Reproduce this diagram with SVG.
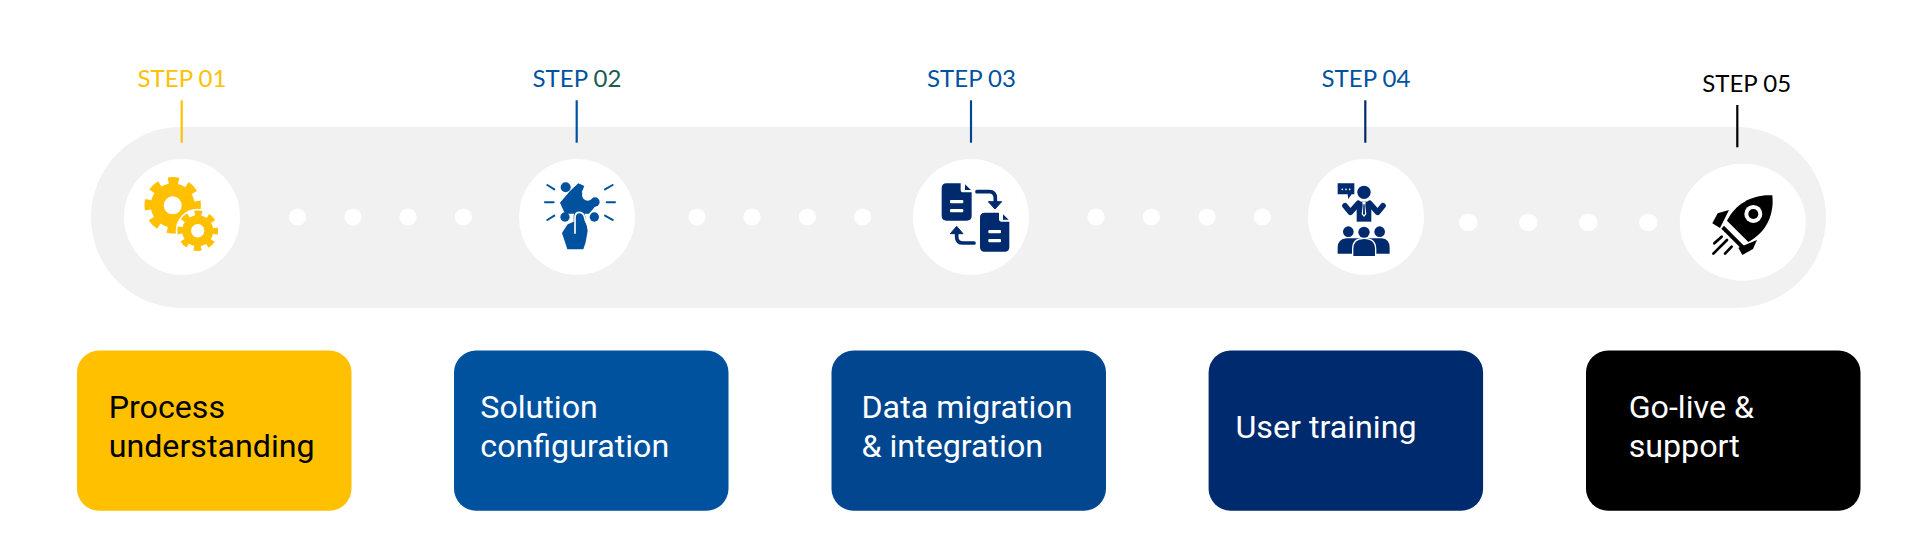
<svg xmlns="http://www.w3.org/2000/svg" width="1920" height="541" viewBox="0 0 1920 541">
<style>
.step{font-family:"Lato","Liberation Sans",sans-serif;font-size:24px;text-anchor:middle}
.lab{font-family:"Roboto","Liberation Sans",sans-serif;font-size:32.2px}
.w{fill:#fff}.k{fill:#000}
.tick{stroke-width:2.2;fill:none}
.dot{fill:#fff}
</style>
<rect width="1920" height="541" fill="#fff"/>
<rect id="track" x="91" y="126.7" width="1735" height="181.3" rx="90.6" fill="#f1f1f1"/>
<g id="connectors">
<g class="dots">
<circle class="dot" cx="297.5" cy="217" r="8.6"/><circle class="dot" cx="353" cy="217" r="8.6"/><circle class="dot" cx="408" cy="217" r="8.6"/><circle class="dot" cx="463.3" cy="217" r="8.6"/>
<circle class="dot" cx="697" cy="217" r="8.6"/><circle class="dot" cx="752" cy="217" r="8.6"/><circle class="dot" cx="807.3" cy="217" r="8.6"/><circle class="dot" cx="862.7" cy="217" r="8.6"/>
<circle class="dot" cx="1096" cy="217" r="8.6"/><circle class="dot" cx="1151.3" cy="217" r="8.6"/><circle class="dot" cx="1207" cy="217" r="8.6"/><circle class="dot" cx="1262.4" cy="217" r="8.6"/>
<ellipse class="dot" cx="1468.3" cy="222.3" rx="9.2" ry="8.6"/><ellipse class="dot" cx="1528.3" cy="222.3" rx="9.2" ry="8.6"/><ellipse class="dot" cx="1588.3" cy="222.3" rx="9.2" ry="8.6"/><ellipse class="dot" cx="1648.3" cy="222.3" rx="9.2" ry="8.6"/>
</g>
<line class="tick" x1="181.7" y1="100.3" x2="181.7" y2="142.7" stroke="#ffc000"/>
<line class="tick" x1="576.7" y1="100.3" x2="576.7" y2="142.7" stroke="#00529f"/>
<line class="tick" x1="971" y1="100.3" x2="971" y2="142.7" stroke="#00478f"/>
<line class="tick" x1="1365.3" y1="100.3" x2="1365.3" y2="142.7" stroke="#002a6e"/>
<line class="tick" x1="1737.3" y1="105" x2="1737.3" y2="147.3" stroke="#000"/>
</g>

<g id="step1">
<text class="step" x="182" y="87" fill="#ffc000">STEP 01</text>
<circle class="w" cx="182" cy="217" r="58"/>
<g fill="#ffc000">
<circle cx="172.7" cy="205.3" r="22"/>
<circle cx="172.7" cy="205.3" r="24.5" fill="none" stroke="#ffc000" stroke-width="7.4" stroke-dasharray="10.4 8.84" stroke-dashoffset="5.2"/>
<circle cx="172.7" cy="205.3" r="9" fill="#fff"/>
<circle cx="197.7" cy="230.7" r="22" fill="#fff"/>
<circle cx="197.7" cy="230.7" r="15.5"/>
<circle cx="197.7" cy="230.7" r="17.3" fill="none" stroke="#ffc000" stroke-width="6" stroke-dasharray="7.2 6.39" stroke-dashoffset="3.6"/>
<circle cx="197.7" cy="230.7" r="6.7" fill="#fff"/>
</g>
<rect x="77" y="350.5" width="274.5" height="160.2" rx="22" fill="#ffc000"/>
<text class="lab k" x="108.7" y="418">Process</text>
<text class="lab k" x="108.7" y="456.7">understanding</text>
</g>

<g id="step2">
<text class="step" x="577" y="87" fill="#00529f">STEP <tspan fill="#1a5c50">02</tspan></text>
<circle class="w" cx="577" cy="217" r="58"/>
<g transform="translate(515 155) scale(.3333)" fill="#00529f">
<path d="M135,143 L165,108 L190,85 L208,93 L200,112 L250,143 L222,176 L150,176 Z"/>
<circle cx="152" cy="97" r="15"/><circle cx="240" cy="141" r="14"/><circle cx="150" cy="186" r="14"/><circle cx="238" cy="186" r="14"/>
<circle cx="218" cy="120" r="17" fill="#fff"/>
<path d="M141,234 L158,208 L176,200 L176,182 Q178,166 193,166 Q208,166 211,184 Q214,205 218,228 L212,262 L205,283 L157,283 Z"/>
<path d="M180,236 V186 Q181,172 193,172 Q206,172 209,188 Q212,208 232,226" fill="none" stroke="#fff" stroke-width="5"/>
<g stroke="#00529f" stroke-width="6" stroke-linecap="round" fill="none">
<path d="M97,90 L118,103M90,142 H116M97,195 L118,182M270,103 L293,90M275,142 H300M270,182 L293,195"/>
</g>
</g>
<rect x="454" y="350.5" width="274.5" height="160.2" rx="22" fill="#00529f"/>
<text class="lab w" x="480.3" y="418">Solution</text>
<text class="lab w" x="480.3" y="456.7">configuration</text>
</g>

<g id="step3">
<text class="step" x="971.5" y="87" fill="#00529f">STEP 03</text>
<circle class="w" cx="971" cy="217" r="58"/>
<g transform="translate(910 155) scale(.3333)" fill="#002a6e">
<path d="M110,85 H152 V105 Q152,112 160,112 H185 V183 Q185,197 170,197 H110 Q95,197 95,183 V100 Q95,85 110,85 Z"/>
<path d="M165,88 L183,105 H165 Z"/>
<rect x="120" y="135" width="40" height="10" rx="3" fill="#fff"/><rect x="120" y="162" width="40" height="10" rx="3" fill="#fff"/>
<path d="M225,173 H267 V193 Q267,200 275,200 H298 V276 Q298,290 284,290 H224 Q210,290 210,276 V188 Q210,173 225,173 Z"/>
<path d="M279,178 L296,194 H279 Z"/>
<rect x="235" y="225" width="38" height="10" rx="3" fill="#fff"/><rect x="235" y="252" width="38" height="10" rx="3" fill="#fff"/>
<path d="M201,110 H238 Q256,110 256,130 V145" fill="none" stroke="#002a6e" stroke-width="11" stroke-linecap="round"/>
<path d="M235,140 H275 L255,162 Z" stroke="#002a6e" stroke-width="3" stroke-linejoin="round"/>
<path d="M192,264 H160 Q140,264 140,245 V232" fill="none" stroke="#002a6e" stroke-width="11" stroke-linecap="round"/>
<path d="M121,236 H159 L140,214 Z" stroke="#002a6e" stroke-width="3" stroke-linejoin="round"/>
</g>
<rect x="831.5" y="350.5" width="274.5" height="160.2" rx="22" fill="#01468e"/>
<text class="lab w" x="861.5" y="418">Data migration</text>
<text class="lab w" x="861.5" y="456.7">&amp; integration</text>
</g>

<g id="step4">
<text class="step" x="1366" y="87" fill="#00529f">STEP 04</text>
<circle class="w" cx="1366" cy="217" r="58"/>
<g transform="translate(1305 155) scale(.3333)" fill="#002a6e">
<path d="M98,85 H148 V118 H140 L130,132 L128,118 H98 Z"/>
<circle cx="112" cy="103" r="2.6" fill="#fff"/><circle cx="123" cy="103" r="2.6" fill="#fff"/><circle cx="134" cy="103" r="2.6" fill="#fff"/>
<circle cx="177" cy="112" r="20"/>
<path d="M155,140 H199 V200 H155 Z"/>
<path d="M120,152 L136,172 L160,145 M234,152 L218,172 L194,145" fill="none" stroke="#002a6e" stroke-width="17" stroke-linecap="round" stroke-linejoin="round"/>
<path d="M172,140 H182 L181,152 L184,178 L177,186 L170,178 L173,152 Z" fill="#fff"/>
<path d="M175,148 H179 L180,176 L177,181 L174,176 Z"/>
<circle cx="130" cy="230" r="16"/><circle cx="224" cy="230" r="16"/>
<path d="M98,296 V278 Q98,252 125,250 H230 Q254,252 254,278 V296 Z"/>
<circle cx="177" cy="232" r="17"/>
<path d="M143,305 V282 Q143,250 177,250 Q212,250 212,282 V305 Z" stroke="#fff" stroke-width="4"/>
</g>
<rect x="1208.6" y="350.5" width="274.5" height="160.2" rx="22" fill="#002a6e"/>
<text class="lab w" x="1235.5" y="438">User training</text>
</g>

<g id="step5">
<text class="step k" x="1746.7" y="91.7">STEP 05</text>
<ellipse class="w" cx="1742.8" cy="222.3" rx="63" ry="58.5"/>
<g transform="translate(1675 60) scale(.3333)">
<path d="M292,406 C235,402 182,430 156,482 L220,546 C276,516 298,462 292,406 Z"/>
<circle cx="235" cy="462" r="27" fill="#fff"/><circle cx="235" cy="462" r="15"/>
<path d="M147,497 L207,557 L197,564 L139,506 Z"/>
<path d="M112,490 L128,460 L162,450 L135,504 Z"/>
<path d="M190,563 L246,540 L234,567 L202,585 Z"/>
<path d="M118,550 L140,530M115,581 L156,540M150,581 L170,560" fill="none" stroke="#000" stroke-width="8" stroke-linecap="round"/>
</g>
<rect x="1586" y="350.5" width="274.5" height="160.2" rx="22" fill="#000"/>
<text class="lab w" x="1628.7" y="418">Go-live &amp;</text>
<text class="lab w" x="1628.7" y="456.7">support</text>
</g>
</svg>
